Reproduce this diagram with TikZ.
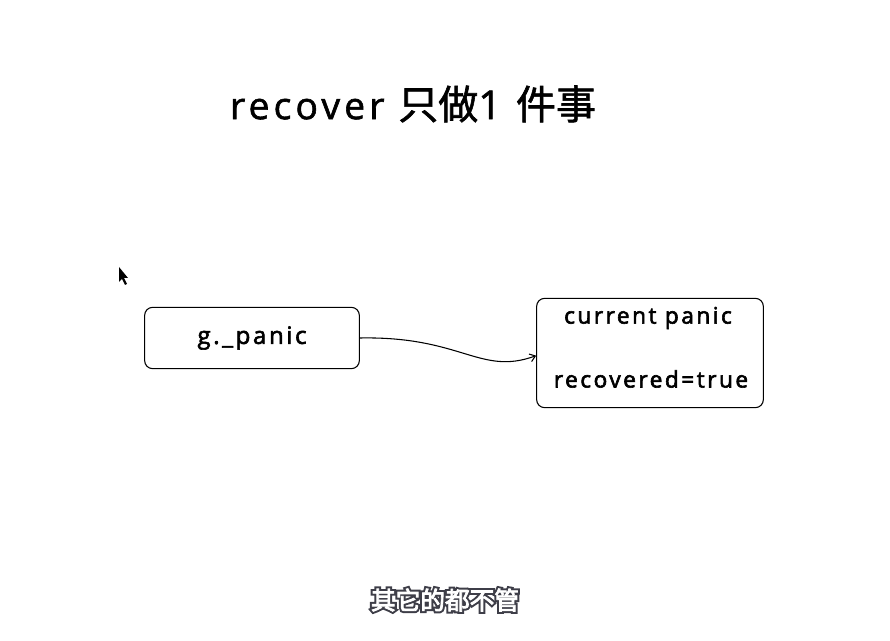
\documentclass[tikz,border=0pt]{standalone}
\usepackage{fontspec}
\setmainfont{Open Sans}
\newfontfamily\hand[LetterSpace=11]{Open Sans}
\newfontfamily\cjk{Noto Sans CJK SC}
\usetikzlibrary{arrows.meta, positioning, calc}
% text drawn with a stroke round it
\newcommand{\inked}[1]{\special{pdf:literal direct 2 Tr 0.45 w 0 0 0 RG}#1\special{pdf:literal direct 0 Tr}}
\newcommand{\rimmed}[1]{\special{pdf:literal direct 2 Tr 3.6 w 0.243 0.243 0.282 RG 0.243 0.243 0.282 rg}#1\special{pdf:literal direct 0 Tr}}
\newcommand{\whitened}[1]{\special{pdf:literal direct 2 Tr 0.6 w 1 1 1 RG 1 1 1 rg}#1\special{pdf:literal direct 0 Tr}}

\begin{document}
\begin{tikzpicture}[
        x=0.75pt, y=-0.75pt,
        box/.style={draw, rounded corners=6pt, line width=0.8pt},
        label/.style={font=\hand\fontsize{17}{22}\selectfont},
        flow/.style={-{Straight Barb[length=4pt, width=6pt]}, line width=0.8pt},
        subtitle/.style={font=\cjk\fontsize{18.5}{22}\selectfont}
    ]
        \useasboundingbox (0,0) rectangle (890,641);

        % Title
        \node (title) at (413,104) {\inked{\hand\fontsize{28}{32}\selectfont recover \cjk\fontsize{30}{32}\selectfont 只做\hand 1 \cjk 件事}};

        % Nodes
        \node[box, minimum width=161pt, minimum height=46pt, label, font=\hand\fontsize{18}{22}\selectfont]
            (gpanic) at (252,338) {\inked{g.\_panic}};
        \node[box, minimum width=170pt, minimum height=82pt] (cur) at (650,353) {};
        \node[label] (curpanic) at (648,318) {\inked{current panic}};
        \node[label] (recov) at (651,379) {\inked{recovered=true}};

        % Link
        \draw[flow] (gpanic.east) .. controls (462,336) and (480,376) .. ([yshift=-2]cur.west);

        % Cursor
        \fill (119,267) -- (119,282) -- (122,279) -- (125,285) -- (127,284) -- (124,278) -- (128,278) -- cycle;

        % Subtitle
        \node[subtitle] (subrim) at (445,600) {\rimmed{其它的都不管}};
        \node[subtitle] (sub) at (445,600) {\whitened{其它的都不管}};
\end{tikzpicture}
\end{document}
